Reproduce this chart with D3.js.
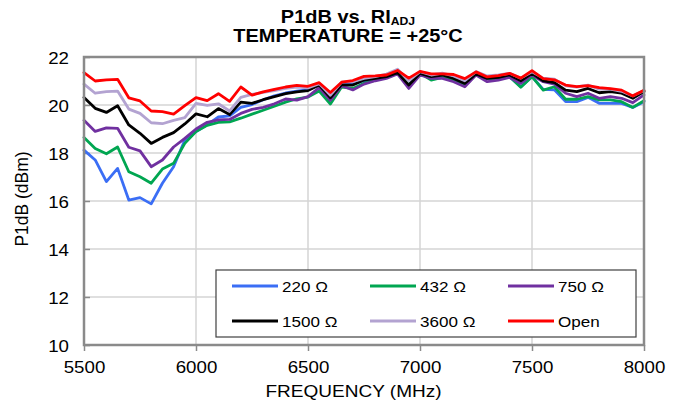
<!DOCTYPE html>
<html><head><meta charset="utf-8">
<script src="https://cdn.jsdelivr.net/npm/d3@7"></script>
<style>html,body{margin:0;padding:0;background:#fff}svg{display:block}text{font-family:Arial,"Liberation Sans",sans-serif;fill:#000}</style>
</head><body>
<svg id="chart" width="678" height="406"></svg>
<script>
const freq = [5500,5550,5600,5650,5700,5750,5800,5850,5900,5950,6000,6050,6100,6150,6200,6250,6300,6350,6400,6450,6500,6550,6600,6650,6700,6750,6800,6850,6900,6950,7000,7050,7100,7150,7200,7250,7300,7350,7400,7450,7500,7550,7600,7650,7700,7750,7800,7850,7900,7950,8000];
const r220 = [18.12,17.71,16.81,17.36,16.04,16.14,15.88,16.74,17.43,18.54,18.89,19.17,19.5,19.55,19.9,20.02,20.22,20.38,20.5,20.58,20.64,20.85,20.3,20.9,20.87,21.01,21.1,21.18,21.35,20.8,21.32,21.15,21.2,21.07,20.9,21.29,21.11,21.11,21.18,20.76,21.18,20.65,20.63,20.14,20.14,20.32,20.07,20.07,20.07,19.9,20.14];
const r432 = [18.65,18.19,17.97,18.25,17.22,17.01,16.74,17.33,17.57,18.4,18.89,19.15,19.28,19.3,19.45,19.62,19.78,19.95,20.12,20.26,20.33,20.58,20.04,20.75,20.69,20.9,21.04,21.15,21.32,20.83,21.32,21.04,21.15,21.04,20.87,21.29,21.11,21.11,21.18,20.74,21.18,20.62,20.76,20.24,20.24,20.35,20.21,20.21,20.14,19.9,20.18];
const r750 = [19.36,18.9,19.05,19.03,18.24,18.09,17.43,17.71,18.25,18.61,19.0,19.28,19.38,19.4,19.65,19.82,19.9,20.05,20.25,20.2,20.35,20.72,20.2,20.8,20.63,20.87,21.01,21.11,21.29,20.69,21.25,21.11,21.11,20.97,20.76,21.25,20.97,21.04,21.15,20.9,21.25,20.97,20.87,20.49,20.35,20.49,20.28,20.35,20.28,20.1,20.42];
const r1500 = [20.31,19.86,19.69,19.97,19.17,18.82,18.4,18.65,18.85,19.21,19.63,19.51,19.85,19.6,20.12,20.07,20.22,20.35,20.47,20.55,20.6,20.83,20.3,20.85,20.83,21.04,21.11,21.18,21.35,20.83,21.32,21.18,21.25,21.11,20.9,21.29,21.11,21.15,21.25,21.01,21.32,21.01,20.93,20.62,20.56,20.69,20.51,20.56,20.49,20.28,20.56];
const r3600 = [20.87,20.49,20.56,20.58,19.83,19.65,19.26,19.22,19.36,19.47,20.07,19.98,20.05,19.75,20.32,20.44,20.53,20.6,20.69,20.75,20.71,20.89,20.41,20.95,20.97,21.11,21.18,21.29,21.49,21.01,21.39,21.25,21.33,21.21,21.01,21.39,21.21,21.25,21.32,21.12,21.38,21.12,21.08,20.8,20.75,20.83,20.66,20.66,20.57,20.38,20.6];
const rOpen = [21.35,21.0,21.05,21.07,20.3,20.17,19.75,19.72,19.62,19.97,20.31,20.18,20.47,20.15,20.75,20.41,20.55,20.65,20.75,20.82,20.78,20.93,20.52,20.95,21.02,21.19,21.21,21.25,21.44,21.12,21.4,21.3,21.3,21.27,21.1,21.38,21.17,21.22,21.32,21.12,21.43,21.1,21.05,20.83,20.77,20.81,20.72,20.68,20.62,20.38,20.61];
const seriesNames = ["220 Ω","432 Ω","750 Ω","1500 Ω","3600 Ω","Open"];
const seriesColors = ["#3b6ef5","#00a651","#7030a0","#000000","#b3a3d1","#ff0000"];
const seriesData = [r220,r432,r750,r1500,r3600,rOpen];
const xTicks = [5500,6000,6500,7000,7500,8000];
const yTicks = [10,12,14,16,18,20,22];

const svg = d3.select("#chart");
const L=84,R=644,T=57,B=345;
const x = d3.scaleLinear().domain([5500,8000]).range([L,R]);
const y = d3.scaleLinear().domain([10,22]).range([B,T]);
const SX = 1.1;

// grid
svg.append("g").selectAll("line").data(xTicks.slice(1,-1)).join("line")
  .attr("x1",d=>x(d)).attr("x2",d=>x(d)).attr("y1",T).attr("y2",B)
  .attr("stroke","#d4d4d4").attr("stroke-width",1.5);
svg.append("g").selectAll("line").data(yTicks.slice(1,-1)).join("line")
  .attr("x1",L).attr("x2",R).attr("y1",d=>y(d)).attr("y2",d=>y(d))
  .attr("stroke","#d4d4d4").attr("stroke-width",1.5);

// axes
const xAxis = svg.append("g").attr("transform",`translate(0,${B})`)
  .call(d3.axisBottom(x).tickValues(xTicks).tickSize(6).tickFormat(d3.format("d")));
xAxis.select(".domain").remove();
xAxis.selectAll(".tick line").attr("stroke","#8a8a8a").attr("stroke-width",1.5);
xAxis.selectAll(".tick text").attr("y",0).attr("dy",0).attr("font-size",17)
  .attr("font-family","Arial, 'Liberation Sans', sans-serif")
  .attr("transform",`translate(0,28) scale(${SX},1)`);

const yAxis = svg.append("g").attr("transform",`translate(${L},0)`)
  .call(d3.axisLeft(y).tickValues(yTicks).tickSize(-6).tickFormat(d3.format("d")));
yAxis.select(".domain").remove();
yAxis.selectAll(".tick line").attr("stroke","#8a8a8a").attr("stroke-width",1.5);
yAxis.selectAll(".tick text").attr("x",0).attr("dy","0.36em").attr("font-size",17)
  .attr("font-family","Arial, 'Liberation Sans', sans-serif")
  .attr("transform",`translate(-15,0) scale(${SX},1)`);

// series
const line = d3.line().x((d,i)=>x(freq[i])).y(d=>y(d));
svg.append("g").selectAll("path").data(seriesData).join("path")
  .attr("d",d=>line(d)).attr("fill","none")
  .attr("stroke",(d,i)=>seriesColors[i]).attr("stroke-width",2.8)
  .attr("stroke-linejoin","round").attr("stroke-linecap","round");

// border
svg.append("rect").attr("x",L).attr("y",T).attr("width",R-L).attr("height",B-T)
  .attr("fill","none").attr("stroke","#8a8a8a").attr("stroke-width",2.5);

// legend
const lg = svg.append("g");
lg.append("rect").attr("x",216).attr("y",270).attr("width",420).attr("height",67)
  .attr("fill","#fff").attr("stroke","#404040").attr("stroke-width",1.2);
const colX=[232,370,508], rowY=[286,321];
seriesNames.forEach((n,i)=>{
  const cx=colX[i%3], cy=rowY[Math.floor(i/3)];
  lg.append("line").attr("x1",cx).attr("x2",cx+46).attr("y1",cy).attr("y2",cy)
    .attr("stroke",seriesColors[i]).attr("stroke-width",2.8);
  lg.append("text").attr("transform",`translate(${cx+50},${cy}) scale(${SX},1)`)
    .attr("dy","0.36em").attr("font-size",15.5).text(n);
});

// titles
const t1 = svg.append("text").attr("transform",`translate(348,22.5) scale(1.11,1)`)
  .attr("text-anchor","middle").attr("font-size",18).attr("font-weight","bold");
t1.append("tspan").text("P1dB vs. RI");
t1.append("tspan").attr("font-size",11).attr("dy",2.5).text("ADJ");
svg.append("text").attr("transform",`translate(348,41.5) scale(1.11,1)`)
  .attr("text-anchor","middle").attr("font-size",18).attr("font-weight","bold")
  .text("TEMPERATURE = +25°C");
svg.append("text").attr("transform",`translate(353.5,396.5) scale(1.12,1)`)
  .attr("text-anchor","middle").attr("font-size",17).text("FREQUENCY (MHz)");
svg.append("text").attr("transform",`translate(28,199) scale(1.1,1) rotate(-90)`)
  .attr("text-anchor","middle").attr("font-size",17.5).text("P1dB (dBm)");
</script>
</body></html>
